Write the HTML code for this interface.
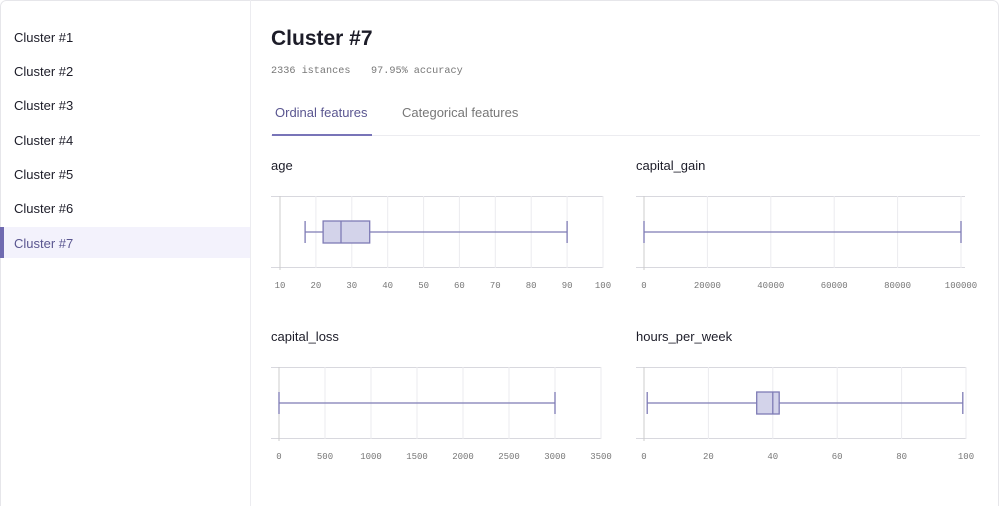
<!DOCTYPE html>
<html><head><meta charset="utf-8"><style>
html,body{margin:0;padding:0;background:#fff;}
svg{display:block;}
.s{font-family:"Liberation Sans",sans-serif;font-size:13px;fill:#1c1c28;}
.m{font-family:"Liberation Mono",monospace;font-size:9px;fill:#777;}
.g{stroke:#ebebef;stroke-width:1;}
.h{stroke:#d8d8de;stroke-width:1;}
.w{stroke:#7e7bb5;stroke-width:1.3;fill:none;}
.b{fill:#d3d3ea;stroke:#7e7bb5;stroke-width:1.3;}
</style></head><body>
<svg width="1000" height="506" viewBox="0 0 1000 506">
<rect x="0.5" y="0.5" width="998" height="520" rx="6" fill="#fff" stroke="#e6e6ea"/>
<line x1="250.5" y1="0" x2="250.5" y2="506" stroke="#ececf0"/>
<rect x="0" y="227" width="250" height="31" fill="#f3f2fc"/>
<rect x="0" y="227" width="4" height="31" fill="#6f6ab0"/>
<text class="s" x="14" y="42">Cluster #1</text>
<text class="s" x="14" y="76">Cluster #2</text>
<text class="s" x="14" y="110">Cluster #3</text>
<text class="s" x="14" y="145">Cluster #4</text>
<text class="s" x="14" y="179">Cluster #5</text>
<text class="s" x="14" y="213">Cluster #6</text>
<text class="s" x="14" y="248" style="fill:#5a5690">Cluster #7</text>
<text x="271" y="45" style="font-family:'Liberation Sans',sans-serif;font-size:21px;font-weight:bold;fill:#1c1c28">Cluster #7</text>
<text x="271" y="73" style="font-family:'Liberation Mono',monospace;font-size:10.2px;fill:#777">2336 istances</text>
<text x="371" y="73" style="font-family:'Liberation Mono',monospace;font-size:10.2px;fill:#777">97.95% accuracy</text>
<text x="275" y="117" class="s" style="fill:#5a5690">Ordinal features</text>
<text x="402" y="117" class="s" style="fill:#777">Categorical features</text>
<line x1="271" y1="135.5" x2="980" y2="135.5" stroke="#ececf0"/>
<rect x="272" y="134" width="100" height="2" fill="#7874b8"/>

<!-- age -->
<text class="s" x="271" y="170">age</text>
<line class="h" x1="271" y1="196.5" x2="603" y2="196.5"/><line class="h" x1="271" y1="267.5" x2="603" y2="267.5"/>
<g class="g"><line x1="315.9" y1="196" x2="315.9" y2="268"/><line x1="351.8" y1="196" x2="351.8" y2="268"/><line x1="387.7" y1="196" x2="387.7" y2="268"/><line x1="423.6" y1="196" x2="423.6" y2="268"/><line x1="459.4" y1="196" x2="459.4" y2="268"/><line x1="495.3" y1="196" x2="495.3" y2="268"/><line x1="531.2" y1="196" x2="531.2" y2="268"/><line x1="567.1" y1="196" x2="567.1" y2="268"/><line x1="603" y1="196" x2="603" y2="268"/></g>
<line x1="280" y1="196" x2="280" y2="270" stroke="#ccc"/>
<line class="w" x1="305.1" y1="232" x2="567.1" y2="232"/><line class="w" x1="305.1" y1="221" x2="305.1" y2="243"/><line class="w" x1="567.1" y1="221" x2="567.1" y2="243"/>
<rect class="b" x="323.1" y="221" width="46.6" height="22"/><line class="w" x1="341" y1="221" x2="341" y2="243"/>
<g class="m" text-anchor="middle"><text x="280" y="288">10</text><text x="315.9" y="288">20</text><text x="351.8" y="288">30</text><text x="387.7" y="288">40</text><text x="423.6" y="288">50</text><text x="459.4" y="288">60</text><text x="495.3" y="288">70</text><text x="531.2" y="288">80</text><text x="567.1" y="288">90</text><text x="603" y="288">100</text></g>

<!-- capital_gain -->
<text class="s" x="636" y="170">capital_gain</text>
<line class="h" x1="636" y1="196.5" x2="965" y2="196.5"/><line class="h" x1="636" y1="267.5" x2="965" y2="267.5"/>
<g class="g"><line x1="707.4" y1="196" x2="707.4" y2="268"/><line x1="770.8" y1="196" x2="770.8" y2="268"/><line x1="834.2" y1="196" x2="834.2" y2="268"/><line x1="897.6" y1="196" x2="897.6" y2="268"/><line x1="961" y1="196" x2="961" y2="268"/></g>
<line x1="644" y1="196" x2="644" y2="270" stroke="#ccc"/>
<line class="w" x1="644" y1="232" x2="961" y2="232"/><line class="w" x1="644" y1="221" x2="644" y2="243"/><line class="w" x1="961" y1="221" x2="961" y2="243"/>
<g class="m" text-anchor="middle"><text x="644" y="288">0</text><text x="707.4" y="288">20000</text><text x="770.8" y="288">40000</text><text x="834.2" y="288">60000</text><text x="897.6" y="288">80000</text><text x="961" y="288">100000</text></g>

<!-- capital_loss -->
<text class="s" x="271" y="341">capital_loss</text>
<line class="h" x1="271" y1="367.5" x2="601" y2="367.5"/><line class="h" x1="271" y1="438.5" x2="601" y2="438.5"/>
<g class="g"><line x1="325" y1="367" x2="325" y2="439"/><line x1="371" y1="367" x2="371" y2="439"/><line x1="417" y1="367" x2="417" y2="439"/><line x1="463" y1="367" x2="463" y2="439"/><line x1="509" y1="367" x2="509" y2="439"/><line x1="555" y1="367" x2="555" y2="439"/><line x1="601" y1="367" x2="601" y2="439"/></g>
<line x1="279" y1="367" x2="279" y2="441" stroke="#ccc"/>
<line class="w" x1="279" y1="403" x2="555" y2="403"/><line class="w" x1="279" y1="392" x2="279" y2="414"/><line class="w" x1="555" y1="392" x2="555" y2="414"/>
<g class="m" text-anchor="middle"><text x="279" y="459">0</text><text x="325" y="459">500</text><text x="371" y="459">1000</text><text x="417" y="459">1500</text><text x="463" y="459">2000</text><text x="509" y="459">2500</text><text x="555" y="459">3000</text><text x="601" y="459">3500</text></g>

<!-- hours_per_week -->
<text class="s" x="636" y="341">hours_per_week</text>
<line class="h" x1="636" y1="367.5" x2="966" y2="367.5"/><line class="h" x1="636" y1="438.5" x2="966" y2="438.5"/>
<g class="g"><line x1="708.4" y1="367" x2="708.4" y2="439"/><line x1="772.8" y1="367" x2="772.8" y2="439"/><line x1="837.2" y1="367" x2="837.2" y2="439"/><line x1="901.6" y1="367" x2="901.6" y2="439"/><line x1="966" y1="367" x2="966" y2="439"/></g>
<line x1="644" y1="367" x2="644" y2="441" stroke="#ccc"/>
<line class="w" x1="647.2" y1="403" x2="962.8" y2="403"/><line class="w" x1="647.2" y1="392" x2="647.2" y2="414"/><line class="w" x1="962.8" y1="392" x2="962.8" y2="414"/>
<rect class="b" x="756.7" y="392" width="22.5" height="22"/><line class="w" x1="772.8" y1="392" x2="772.8" y2="414"/>
<g class="m" text-anchor="middle"><text x="644" y="459">0</text><text x="708.4" y="459">20</text><text x="772.8" y="459">40</text><text x="837.2" y="459">60</text><text x="901.6" y="459">80</text><text x="966" y="459">100</text></g>
</svg>
</body></html>
